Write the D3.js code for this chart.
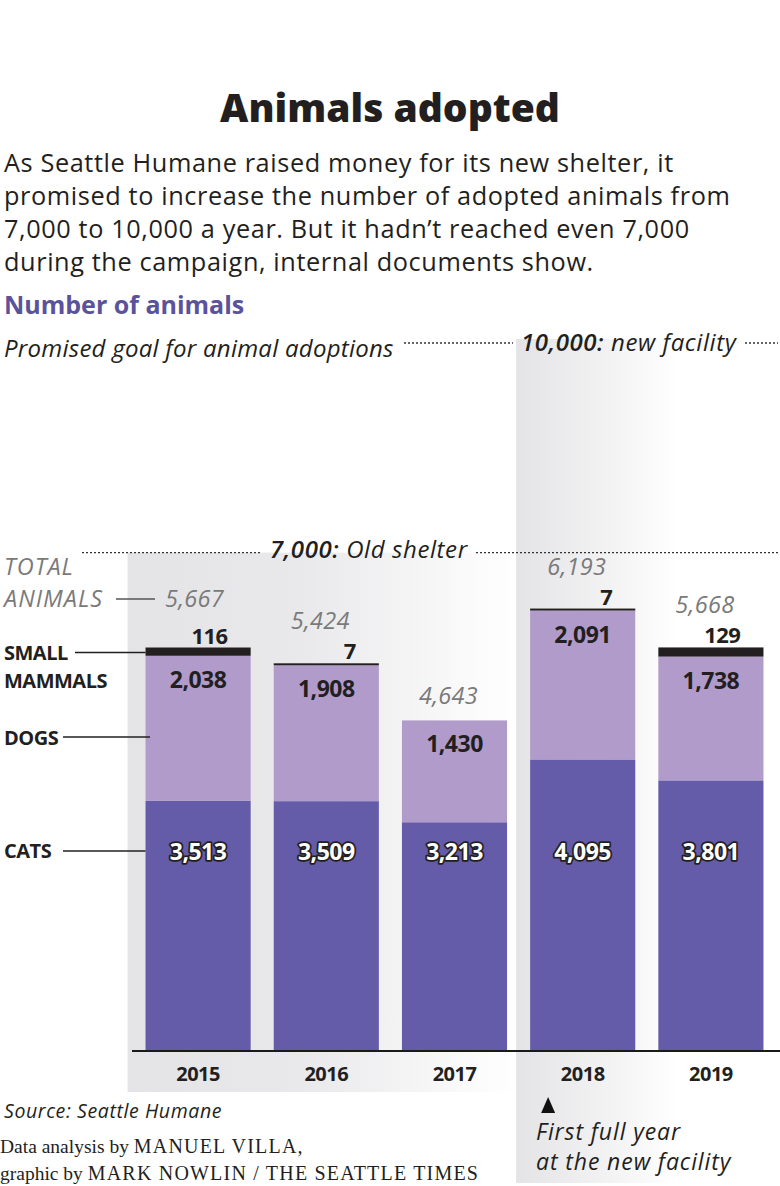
<!DOCTYPE html>
<html><head><meta charset="utf-8">
<script src="https://cdn.jsdelivr.net/npm/d3@7"></script>
<style>
html,body{margin:0;padding:0;background:#fff;}
svg{display:block;font-family:"Open Sans",sans-serif;}
</style></head>
<body>
<svg id="chart" width="780" height="1186"></svg>
<script>
const years = ["2015","2016","2017","2018","2019"];
const cats = [3513,3509,3213,4095,3801];
const dogs = [2038,1908,1430,2091,1738];
const smallMammals = [116,7,0,7,129];
const totals = [5667,5424,4643,6193,5668];
const goalOld = 7000;
const goalNew = 10000;
const subtitleLines = [
  "As Seattle Humane raised money for its new shelter, it",
  "promised to increase the number of adopted animals from",
  "7,000 to 10,000 a year. But it hadn\u2019t reached even 7,000",
  "during the campaign, internal documents show."
];

const W = 780, H = 1186;
const svg = d3.select("#chart");
const fmt = d3.format(",");
const C_CAT = "#645ba9", C_DOG = "#b09bcb", C_SM = "#231f20", C_TXT = "#231f20", C_GRAY = "#7a7a7a";
const SERIF = "'Liberation Serif', 'DejaVu Serif', serif";

const x = d3.scaleBand().domain(years).range([134, 775]).paddingInner(0.18).paddingOuter(0.09);
const y = d3.scaleLinear().domain([0, 10000]).range([1051, 339]);

// gradients
const defs = svg.append("defs");
const g1 = defs.append("linearGradient").attr("id","gr1").attr("x1","0").attr("x2","1").attr("y1","0").attr("y2","0");
g1.append("stop").attr("offset","0").attr("stop-color","#e4e4e6");
g1.append("stop").attr("offset","0.45").attr("stop-color","#e9e9eb");
g1.append("stop").attr("offset","1").attr("stop-color","#ffffff");
const g2 = defs.append("linearGradient").attr("id","gr2").attr("x1","0").attr("x2","1").attr("y1","0").attr("y2","0");
g2.append("stop").attr("offset","0").attr("stop-color","#e4e4e6");
g2.append("stop").attr("offset","0.6").attr("stop-color","#f3f3f4");
g2.append("stop").attr("offset","1").attr("stop-color","#ffffff");

// shaded panels
svg.append("rect").attr("x", x("2015") - 18).attr("y", y(goalOld))
  .attr("width", x("2018") - 14 - (x("2015") - 18)).attr("height", 1092 - y(goalOld)).attr("fill","url(#gr1)");
svg.append("rect").attr("x", x("2018") - 14).attr("y", y(goalNew))
  .attr("width", 160).attr("height", 1183 - y(goalNew)).attr("fill","url(#gr2)");

// Title
svg.append("text").attr("x", W/2).attr("y", 122).attr("text-anchor","middle")
  .attr("font-size", 39).attr("font-weight", 800).attr("fill", C_TXT).text("Animals adopted");

svg.append("g").selectAll("text").data(subtitleLines).join("text")
  .attr("x", 4).attr("y", (d,i) => 172 + i*33).attr("font-size", 25.3).attr("letter-spacing", 0.6)
  .attr("fill", C_TXT).text(d => d);

svg.append("text").attr("x", 4).attr("y", 314).attr("font-size", 25).attr("font-weight", 700)
  .attr("fill", "#5a539c").text("Number of animals");

// Goal lines
const it = (sel) => sel.attr("font-style","italic");
svg.append("text").attr("x", 4).attr("y", 357).attr("font-size", 24).attr("letter-spacing", 0.25).call(it).attr("fill", C_TXT)
  .text("Promised goal for animal adoptions");
const dash = (x1, x2, yy) => svg.append("line").attr("x1",x1).attr("x2",x2).attr("y1",yy).attr("y2",yy)
  .attr("stroke","#333").attr("stroke-width",1.3).attr("stroke-dasharray","2,2");
dash(404, 513, y(goalNew) + 4);
dash(745, 778, y(goalNew) + 4);
const t10 = svg.append("text").attr("x", 521).attr("y", y(goalNew) + 12).attr("font-size", 24).attr("letter-spacing", 0.6).call(it).attr("fill", C_TXT);
t10.append("tspan").attr("font-weight",600).text(fmt(goalNew) + ":");
t10.append("tspan").text(" new facility");

dash(82, 260, y(goalOld));
dash(476, 778, y(goalOld));
const t7 = svg.append("text").attr("x", 270).attr("y", y(goalOld) + 5).attr("font-size", 24).attr("letter-spacing", 0.6).call(it).attr("fill", C_TXT);
t7.append("tspan").attr("font-weight",600).text(fmt(goalOld) + ":");
t7.append("tspan").text(" Old shelter");

// Bars
const data = years.map((yr,i) => ({yr, cat: cats[i], dog: dogs[i], sm: smallMammals[i], total: totals[i]}));
const bars = svg.append("g");
bars.selectAll(".cat").data(data).join("rect").attr("class","cat")
  .attr("x", d => x(d.yr)).attr("width", x.bandwidth())
  .attr("y", d => y(d.cat)).attr("height", d => y(0) - y(d.cat)).attr("fill", C_CAT);
bars.selectAll(".dog").data(data).join("rect").attr("class","dog")
  .attr("x", d => x(d.yr)).attr("width", x.bandwidth())
  .attr("y", d => y(d.cat + d.dog)).attr("height", d => y(d.cat) - y(d.cat + d.dog)).attr("fill", C_DOG);
bars.selectAll(".sm").data(data.filter(d => d.sm > 0)).join("rect").attr("class","sm")
  .attr("x", d => x(d.yr)).attr("width", x.bandwidth())
  .attr("y", d => Math.min(y(d.total), y(d.cat + d.dog) - 2))
  .attr("height", d => Math.max(y(d.cat + d.dog) - y(d.total), 2)).attr("fill", C_SM);

// axis
svg.append("line").attr("x1", 132).attr("x2", 780).attr("y1", y(0)).attr("y2", y(0))
  .attr("stroke", "#1a1a1a").attr("stroke-width", 2);
const xAxis = d3.axisBottom(x).tickSize(0).tickPadding(16);
const ax = svg.append("g").attr("transform", `translate(0,${y(0)})`).call(xAxis);
ax.select(".domain").remove();
ax.attr("font-family", null).attr("font-size", null);
ax.selectAll("text").attr("font-size", 20).attr("font-weight", 700)
  .attr("fill", C_TXT).attr("dy", "0.71em").attr("letter-spacing", -0.5);

// labels
const topOf = d => Math.min(y(d.total), y(d.cat + d.dog) - 2);
// cats
svg.append("g").selectAll("text").data(data).join("text")
  .attr("x", d => x(d.yr) + x.bandwidth()/2).attr("y", 860).attr("text-anchor","middle")
  .attr("font-size", 23).attr("font-weight", 700).attr("fill", "#fff")
  .attr("stroke", "#231f20").attr("stroke-width", 3.5).attr("paint-order","stroke").attr("stroke-linejoin","round")
  .attr("letter-spacing", -0.5).text(d => fmt(d.cat));
// dogs
svg.append("g").selectAll("text").data(data).join("text")
  .attr("x", d => x(d.yr) + x.bandwidth()/2).attr("y", d => y(d.cat + d.dog) + 32).attr("text-anchor","middle")
  .attr("font-size", 23).attr("font-weight", 700).attr("fill", C_TXT).attr("letter-spacing", -0.5)
  .text(d => fmt(d.dog));
// small mammals
svg.append("g").selectAll("text").data(data.filter(d => d.sm > 0)).join("text")
  .attr("x", d => x(d.yr) + x.bandwidth() - 23).attr("y", d => topOf(d) - 4).attr("text-anchor","end")
  .attr("font-size", 22).attr("font-weight", 700).attr("fill", C_TXT).attr("letter-spacing", -0.5)
  .text(d => fmt(d.sm));
// totals
svg.append("g").selectAll("text").data(data.filter(d => d.yr !== "2015")).join("text")
  .attr("x", d => x(d.yr) + x.bandwidth()/2 - 6).attr("y", d => d.sm > 0 ? topOf(d) - 34 : topOf(d) - 14)
  .attr("text-anchor","middle").attr("font-size", 23.5).attr("letter-spacing", 0.3).call(it).attr("fill", C_GRAY)
  .text(d => fmt(d.total));
svg.append("text").attr("x", 165).attr("y", 607).attr("font-size", 23.5).attr("letter-spacing", 0.3).call(it).attr("fill", C_GRAY)
  .text(fmt(totals[0]));

// legend labels on left
const lab = (txt, yy, opts={}) => svg.append("text").attr("x", 4).attr("y", yy)
  .attr("font-size", opts.size || 20).attr("font-weight", opts.italic ? 400 : 700)
  .attr("font-style", opts.italic ? "italic" : "normal").attr("fill", opts.color || C_TXT)
  .attr("letter-spacing", opts.ls ?? -0.5).text(txt);
lab("TOTAL", 575, {italic:true, color:C_GRAY, size:23.5, ls:1});
lab("ANIMALS", 607, {italic:true, color:C_GRAY, size:23.5, ls:1});
lab("SMALL", 660);
lab("MAMMALS", 688);
lab("DOGS", 745);
lab("CATS", 858);
const seg = (x1,x2,yy,c) => svg.append("line").attr("x1",x1).attr("x2",x2).attr("y1",yy).attr("y2",yy)
  .attr("stroke", c || "#231f20").attr("stroke-width", 1.5);
const d15 = data[0];
seg(116, 155, 599, "#555");
seg(75, x("2015"), topOf(d15) + 5);
seg(63, 150, 737);
seg(63, x("2015"), 851);

// footer
svg.append("text").attr("x", 4).attr("y", 1118).attr("font-size", 19.5).attr("letter-spacing", 0.6).call(it).attr("fill", C_TXT)
  .text("Source: Seattle Humane");
const cr1 = svg.append("text").attr("x", 0).attr("y", 1153).style("font-family", SERIF).attr("font-size", 19.5).attr("fill", C_TXT);
cr1.append("tspan").text("Data analysis by ");
cr1.append("tspan").attr("font-size", 20).attr("letter-spacing", 1.2).text("MANUEL VILLA,");
const cr2 = svg.append("text").attr("x", 0).attr("y", 1180).style("font-family", SERIF).attr("font-size", 19.5).attr("fill", C_TXT);
cr2.append("tspan").text("graphic by ");
cr2.append("tspan").attr("font-size", 20).attr("letter-spacing", 1.2).text("MARK NOWLIN / THE SEATTLE TIMES");

// arrow + note
const ax18 = x("2018") + 18;
svg.append("path").attr("d", `M${ax18},1097 L${ax18+7},1113 L${ax18-7},1113 Z`).attr("fill", "#111");
svg.append("text").attr("x", 536).attr("y", 1140).attr("font-size", 23).attr("letter-spacing", 0.9).call(it).attr("fill", C_TXT).text("First full year");
svg.append("text").attr("x", 536).attr("y", 1170).attr("font-size", 23).attr("letter-spacing", 0.9).call(it).attr("fill", C_TXT).text("at the new facility");
</script>
</body></html>
